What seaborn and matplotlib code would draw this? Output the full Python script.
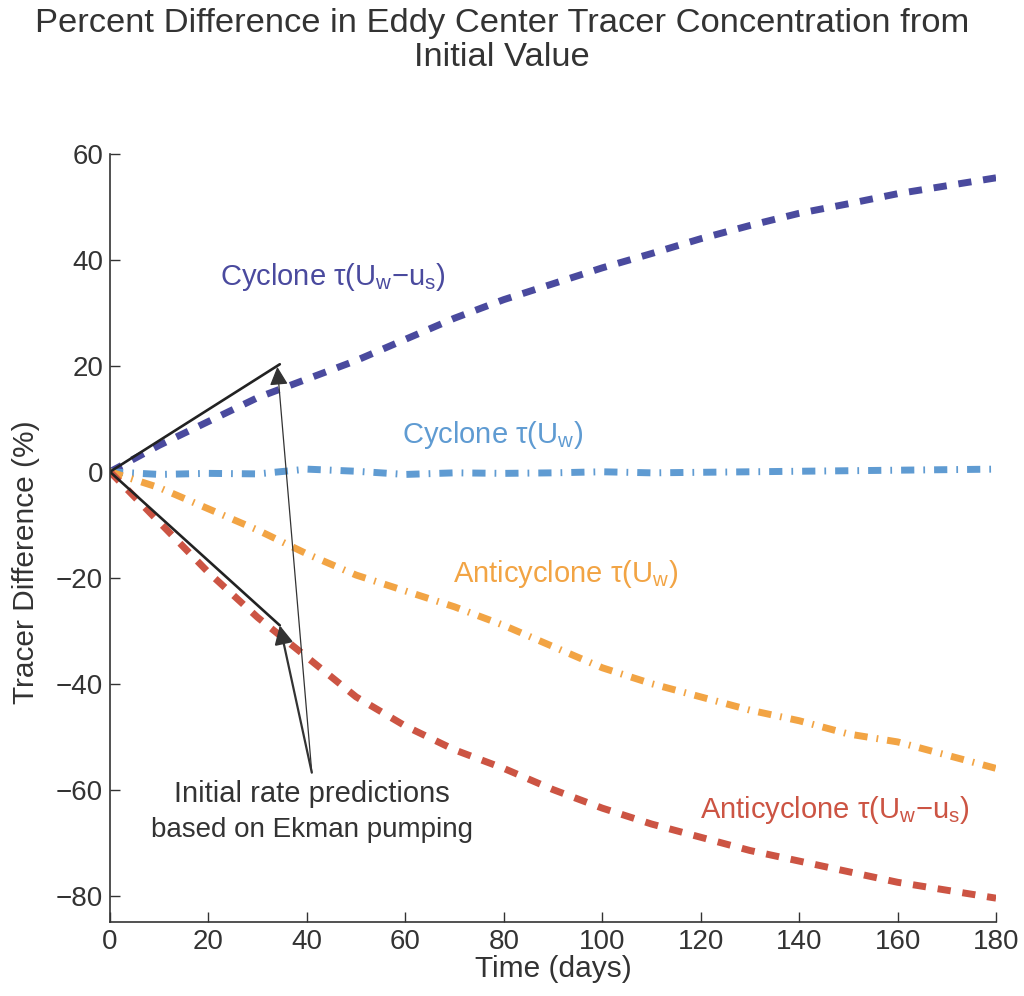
import numpy as np
import pandas as pd
import matplotlib
matplotlib.use("Agg")
import matplotlib.pyplot as plt
import seaborn as sns

days = [0, 10, 20, 30, 40, 50, 60, 70, 80, 90, 100, 110, 120, 130, 140, 150, 160, 170, 180]
cyc_uw_us = [0, 5, 9.5, 14, 17.5, 21, 25, 29, 32.5, 35.5, 38.5, 41.2, 44, 46.5, 48.8, 50.6, 52.5, 54, 55.5]
cyc_uw = [0, -0.5, -0.3, -0.4, 0.5, 0.1, -0.5, -0.2, -0.3, -0.2, 0, -0.2, -0.1, 0, 0.1, 0.2, 0.3, 0.4, 0.5]
anti_uw = [0, -3, -7, -11, -15.5, -19.5, -22.5, -25.5, -29, -33, -37, -40, -42.5, -45, -47, -49.5, -51, -53.5, -56]
anti_uw_us = [0, -9.5, -19, -27.5, -35, -42.5, -48, -52.5, -56, -60, -63.5, -66.5, -69, -71.5, -73.5, -75.5, -77.5, -79, -80.5]

pred_x = [0, 34.5]
pred_cyc = [0, 20.3]
pred_anti = [0, -29]

title = "Percent Difference in Eddy Center Tracer Concentration from\nInitial Value"

sns.set_theme(style="white")
plt.rcParams['font.family'] = ['Liberation Sans', 'DejaVu Sans']
plt.rcParams['mathtext.fontset'] = 'custom'
plt.rcParams['mathtext.rm'] = 'Liberation Sans'
plt.rcParams['mathtext.it'] = 'Liberation Sans:italic'

fig = plt.figure(figsize=(10.24, 9.96), dpi=100)
ax = fig.add_axes([0.1074, 0.0743, 0.8653, 0.7711])

c_dblue = "#4a4a9e"
c_lblue = "#5f9bd2"
c_orange = "#f2a444"
c_red = "#cc5443"
c_text = "#333333"

LW = 5
dash = (0, (1.9, 1.7))
dashdot = (0, (1.9, 1.3, 0.25, 1.3))

sns.lineplot(x=days, y=cyc_uw_us, ax=ax, color=c_dblue, lw=LW, linestyle=dash)
sns.lineplot(x=days, y=cyc_uw, ax=ax, color=c_lblue, lw=LW, linestyle=dashdot)
sns.lineplot(x=days, y=anti_uw, ax=ax, color=c_orange, lw=LW, linestyle=dashdot)
sns.lineplot(x=days, y=anti_uw_us, ax=ax, color=c_red, lw=LW, linestyle=dash)

ax.plot(pred_x, pred_cyc, color="#222222", lw=1.9)
ax.plot(pred_x, pred_anti, color="#222222", lw=1.9)

ax.annotate("", xy=(34, 19.8), xytext=(41, -56.8),
            arrowprops=dict(arrowstyle="-|>", lw=0.9, color=c_text, mutation_scale=28, shrinkA=0, shrinkB=0))
ax.annotate("", xy=(34.5, -29), xytext=(41, -56.8),
            arrowprops=dict(arrowstyle="-|>", lw=1.6, color=c_text, mutation_scale=28, shrinkA=0, shrinkB=0))

fs = 21
ax.text(22.4, 35.3, "Cyclone τ(U$_\\mathrm{w}$−u$_\\mathrm{s}$)", color=c_dblue, fontsize=fs, va="baseline", ha="left")
ax.text(59.3, 5.5, "Cyclone τ(U$_\\mathrm{w}$)", color=c_lblue, fontsize=fs, va="baseline", ha="left")
ax.text(69.7, -20.9, "Anticyclone τ(U$_\\mathrm{w}$)", color=c_orange, fontsize=fs, va="baseline", ha="left")
ax.text(119.9, -65.3, "Anticyclone τ(U$_\\mathrm{w}$−u$_\\mathrm{s}$)", color=c_red, fontsize=fs, va="baseline", ha="left")
ax.text(41, -62.3, "Initial rate predictions", color=c_text, fontsize=fs, va="baseline", ha="center")
ax.text(41, -68.9, "based on Ekman pumping", color=c_text, fontsize=20, va="baseline", ha="center")

ax.set_xlim(0, 180)
ax.set_ylim(-85, 60)
ax.set_xticks(np.arange(0, 181, 20))
ax.set_yticks(np.arange(-80, 61, 20))
ax.tick_params(direction="in", length=7, width=1, labelsize=20, colors=c_text, left=True, bottom=True, pad=5)
for s in ["top", "right"]:
    ax.spines[s].set_visible(False)
for s in ["left", "bottom"]:
    ax.spines[s].set_color(c_text)
    ax.spines[s].set_linewidth(1.2)

ax.set_xlabel("Time (days)", fontsize=21.5, color=c_text, labelpad=0)
ax.set_ylabel("Tracer Difference (%)", fontsize=21.5, color=c_text)
ax.yaxis.set_label_coords(-0.079, 0.469)
fig.suptitle(title, fontsize=24.8, color=c_text, y=0.992, x=0.49, va="top", linespacing=1.12)

fig.savefig("out.png", dpi=100, facecolor="white")
